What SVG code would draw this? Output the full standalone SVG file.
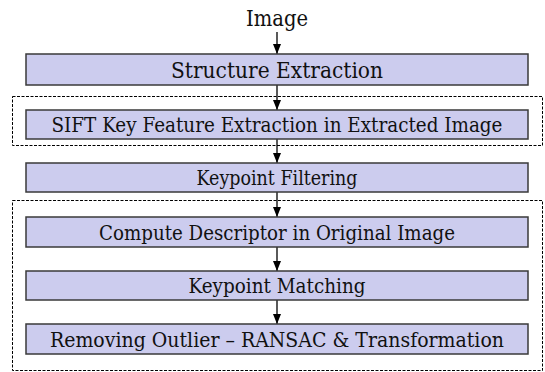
<svg xmlns="http://www.w3.org/2000/svg" width="545" height="372" viewBox="0 0 545 372">
<style>
.box{fill:#ccccee;stroke:#3a3a3a;stroke-width:1.5}
.grp{fill:none;stroke:#000;stroke-width:1;stroke-dasharray:3 1.5}
text{font-family:'DejaVu Serif',serif;fill:#111;text-anchor:middle}
.s23{font-size:20.5px}
.s21{font-size:19.5px}
.s25{font-size:22.5px}
.c{stroke:#000;stroke-width:1.3;fill:none}
</style>
<defs>
<marker id="ah" viewBox="0 0 10 10" refX="10" refY="5" markerWidth="10" markerHeight="10" markerUnits="userSpaceOnUse" orient="auto">
<path d="M0,1 L10,5 L0,9 Z" fill="#000"/>
</marker>
</defs>
<g id="groups">
<rect class="grp" x="12.5" y="96.5" width="530" height="49"/>
<rect class="grp" x="12.5" y="200.5" width="530" height="170"/>
</g>
<g id="connectors">
<line class="c" x1="277" y1="32" x2="277" y2="54" marker-end="url(#ah)"/>
<line class="c" x1="277" y1="85" x2="277" y2="110" marker-end="url(#ah)"/>
<line class="c" x1="277" y1="139" x2="277" y2="163" marker-end="url(#ah)"/>
<line class="c" x1="277" y1="192" x2="277" y2="217" marker-end="url(#ah)"/>
<line class="c" x1="277" y1="247" x2="277" y2="271" marker-end="url(#ah)"/>
<line class="c" x1="277" y1="300" x2="277" y2="324" marker-end="url(#ah)"/>
</g>
<g id="image">
<text class="s25" x="277" y="26" textLength="62" lengthAdjust="spacingAndGlyphs">Image</text>
</g>
<g id="structure">
<rect class="box" x="26" y="54" width="502" height="31"/>
<text class="s25" x="277" y="78" textLength="212" lengthAdjust="spacingAndGlyphs">Structure Extraction</text>
</g>
<g id="sift">
<rect class="box" x="26" y="110" width="502" height="29"/>
<text class="s21" x="277" y="131.5" textLength="451" lengthAdjust="spacingAndGlyphs">SIFT Key Feature Extraction in Extracted Image</text>
</g>
<g id="filtering">
<rect class="box" x="26" y="163" width="502" height="29"/>
<text class="s23" x="277" y="185" textLength="161" lengthAdjust="spacingAndGlyphs">Keypoint Filtering</text>
</g>
<g id="descriptor">
<rect class="box" x="26" y="217" width="502" height="30"/>
<text class="s23" x="277" y="240" textLength="356" lengthAdjust="spacingAndGlyphs">Compute Descriptor in Original Image</text>
</g>
<g id="matching">
<rect class="box" x="26" y="271" width="502" height="29"/>
<text class="s23" x="277" y="293" textLength="177" lengthAdjust="spacingAndGlyphs">Keypoint Matching</text>
</g>
<g id="ransac">
<rect class="box" x="26" y="324" width="502" height="30"/>
<text class="s23" x="277" y="347" textLength="454" lengthAdjust="spacingAndGlyphs">Removing Outlier – RANSAC &amp; Transformation</text>
</g>
</svg>
